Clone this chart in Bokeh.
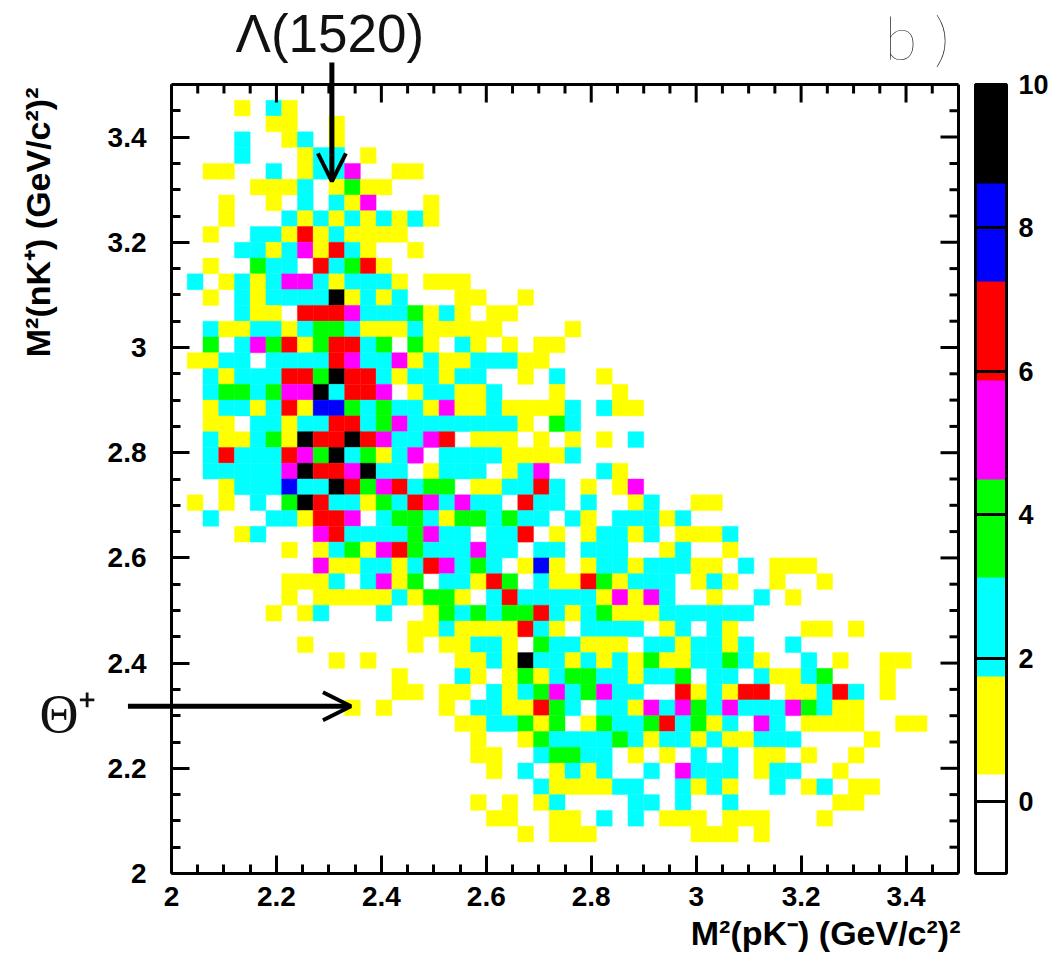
from bokeh.plotting import figure
from bokeh.models import (ColumnDataSource, LinearColorMapper, ColorBar, FixedTicker, LinearAxis,
                          Label, Arrow, OpenHead, Range1d)
from bokeh.transform import transform
from bokeh.embed import file_html
from bokeh.resources import INLINE

# bin edges: 50 x 50 bins of 0.03 over 2 .. 3.5
x_low, y_low, bin_size, n_bins = 2.0, 2.0, 0.03, 50
x_high, y_high = 3.5, 3.5

# counts per cell, top row first, left to right (grouped in fives, '.' = empty)
count_rows = [
    "",
    "....1 .21",
    "..... .11.. 1",
    "....2 ..12. 1",
    "....2 ...12 2.1",
    "..11. .2.12 25..1 1",
    "..... 1112. 1411",
    "...1. .1.2. 215.. .1",
    "...1. ..212 12121 21",
    "..1.. 22161 21111",
    "....2 21251 621.. 1",
    "..1.. 422.6 2461",
    ".2.12 12552 12221 .111",
    "..1.2 12222 91212 ...11 ..1",
    "....2 11.66 65222 4121. 11",
    "..211 22124 42111 21111 1.... 1",
    "..4.2 54614 6624. 41.21 .1.11",
    ".1122 .2222 65225 12112 2211",
    "..212 22664 96621 22122 ..1.2 ..1",
    "..244 24559 2665. 12211 2...1 ...1",
    "..122 12618 84242 21511 21111 2.211",
    "..11. 22122 66245 22222 221.4 2",
    "..211 24196 69652 256.1 11.1. 1.1.2",
    "..262 22654 92412 5.222 21111 2",
    "..222 22596 65922 .1222 .125. ..21",
    "...12 22822 96456 244.1 12262 .1.15",
    ".1.1. 2.496 22142 65252 2.622 .2..1 2..11",
    "..2.. .2216 65.24 42144 2422. 21.22 212",
    "....1 2...5 62222 4522. 226.1 .1221 2.111 2",
    "..... ..1.1 24156 42225 22.22 .222. .12.. 1",
    "..... ....5 11221 26524 2.181 .1221 22211 .2.11 1",
    "..... ..111 2.251 4.221 64.21 16412 22.12 1..1. .1",
    "..... ..1.1 11112 1441. 26222 22151 52..1 ..2.1",
    "..... .1.12 ...2. .1424 24462 12411 12222 22",
    "..... ..... ..... 11211 11621 .2222 .12.2 1.... 11.1",
    "..... ...1. ..... 1.112 21.42 2111. 22122 12..2",
    "..... ..... 1.1.. ...11 21922 12121 41122 421.. 2.1.. 11",
    "..... ..... ....1 ...21 .1412 44221 224.2 2.211 24... 1",
    "..... ..... ....1 1.11. 21245 24522 ..612 166.1 1262. 1",
    "..... ..... .1.1. ..1.2 21164 2.221 52542 52225 4211",
    "..... ..... ..... ...11 22414 .1422 46241 2.52. 1111. .11",
    "..... ..... ..... ....1 ..142 22242 12212 11222 ....1",
    "..... ..... ..... ....1 1..24 422.1 .1.2. 2.11. 1..1",
    "..... ..... ..... ..... 1.2.1 212.. 2.522 2.122 ..1",
    "..... ..... ..... ..... ...21 11122 ..212 1..2. 12.11",
    "..... ..... ..... ....1 .1.12 ....2 2.2.. 2.... ..11.",
    "..... ..... ..... ..... 11..1 1.2.2 .111. 111.. .1",
    "..... ..... ..... ..... ..1.1 11... ...11 1.1",
    "",
    "",
]

palette = ["#ffffff", "#ffff00", "#00ffff", "#00ff00", "#ff00ff", "#ff0000", "#0000ff", "#000000"]
z_low, z_high = -1, 10

major_ticks = [2.0, 2.2, 2.4, 2.6, 2.8, 3.0, 3.2, 3.4]
minor_ticks = [2.05, 2.1, 2.15, 2.25, 2.3, 2.35, 2.45, 2.5, 2.55, 2.65, 2.7, 2.75, 2.85, 2.9, 2.95,
               3.05, 3.1, 3.15, 3.25, 3.3, 3.35, 3.45]
tick_labels = {2.0: "2", 2.2: "2.2", 2.4: "2.4", 2.6: "2.6", 2.8: "2.8", 3.0: "3", 3.2: "3.2", 3.4: "3.4"}
colorbar_ticks = [0, 2, 4, 6, 8, 10]

left, right, bottom, top, count = [], [], [], [], []
for r, row in enumerate(count_rows):
    cells = row.replace(" ", "").ljust(n_bins, ".")
    for c, ch in enumerate(cells):
        if ch != ".":
            j = n_bins - 1 - r
            left.append(x_low + c * bin_size)
            right.append(x_low + (c + 1) * bin_size)
            bottom.append(y_low + j * bin_size)
            top.append(y_low + (j + 1) * bin_size)
            count.append(int(ch))

source = ColumnDataSource(dict(left=left, right=right, bottom=bottom, top=top, count=count))
mapper = LinearColorMapper(palette=palette, low=z_low, high=z_high)

W, H = 1055, 957
PLOT_L, PLOT_R, PLOT_T, PLOT_B = 171, 958, 84, 873
sx = (PLOT_R - PLOT_L) / (x_high - x_low)   # px per unit
sy = (PLOT_B - PLOT_T) / (y_high - y_low)

# the frame fills the whole canvas, so labels and arrows outside the axes box stay visible
p = figure(width=W, height=H, output_backend="svg", toolbar_location=None,
           x_range=Range1d(x_low - PLOT_L / sx, x_low + (W - PLOT_L) / sx),
           y_range=Range1d(y_low - (H - PLOT_B) / sy, y_low + PLOT_B / sy),
           x_axis_type=None, y_axis_type=None,
           min_border_left=0, min_border_right=0, min_border_top=0, min_border_bottom=0,
           background_fill_color="white", border_fill_color="white", outline_line_color=None)
p.grid.visible = False

p.quad(left="left", right="right", bottom="bottom", top="top", source=source,
       fill_color=transform("count", mapper), line_color=transform("count", mapper), line_width=0.4)

ticker = FixedTicker(ticks=major_ticks, minor_ticks=minor_ticks)
FONT = "Liberation Sans"

def make_axis(location, standoff):
    return LinearAxis(ticker=ticker, fixed_location=location, bounds=(2, 3.5),
                      major_tick_in=18, major_tick_out=0, minor_tick_in=9, minor_tick_out=0,
                      major_tick_line_width=3, minor_tick_line_width=3, axis_line_width=3,
                      major_tick_line_color="black", minor_tick_line_color="black", axis_line_color="black",
                      major_label_overrides=tick_labels, major_label_text_font=FONT,
                      major_label_text_font_style="bold", major_label_text_font_size="28px",
                      major_label_text_color="black", major_label_standoff=standoff)

p.add_layout(make_axis(y_low, 13), "below")
p.add_layout(make_axis(x_low, 25), "left")

# mirrored ticks on the top and right sides, without labels
tick_kw = dict(line_color="black", line_width=3)
p.segment(major_ticks, y_high, major_ticks, y_high - 18 / sy, **tick_kw)
p.segment(minor_ticks, y_high, minor_ticks, y_high - 9 / sy, **tick_kw)
p.segment(x_high, major_ticks, x_high - 18 / sx, major_ticks, **tick_kw)
p.segment(x_high, minor_ticks, x_high - 9 / sx, minor_ticks, **tick_kw)
p.segment([x_low, x_high], y_high, [x_high, x_high], [y_high, y_low], **tick_kw)

cb = ColorBar(color_mapper=mapper, ticker=FixedTicker(ticks=colorbar_ticks), location=(975, H - PLOT_B),
              width=31, height=PLOT_B - PLOT_T, padding=0, margin=0, label_standoff=12,
              major_tick_in=31, major_tick_out=0, major_tick_line_color="black", major_tick_line_width=3,
              minor_tick_line_color=None, bar_line_color="black", bar_line_width=3,
              major_label_text_font=FONT, major_label_text_font_style="bold",
              major_label_text_font_size="27px", major_label_text_color="black",
              background_fill_color=None, border_line_color=None, title=None)
p.add_layout(cb)

def add_text(text, px, py, size, font=FONT, style="normal", align="left", angle=0, color="black"):
    p.add_layout(Label(x=px, y=H - py, x_units="screen", y_units="screen", text=text,
                       text_font=font, text_font_style=style, text_font_size=size,
                       text_align=align, text_baseline="middle", angle=angle, text_color=color))

add_text("M\u00b2(pK\u207b) (GeV/c\u00b2)\u00b2", 960, 932, "34px", style="bold", align="right")
add_text("M\u00b2(nK\u207a) (GeV/c\u00b2)\u00b2", 37, 87, "34px", style="bold", align="right", angle=1.5708)
add_text("\u039b(1520)", 235, 33, "53px", color="#111111")
add_text("\u0398\u207a", 39, 713, "54px", font="Liberation Serif", color="#111111")
add_text("b )", 884, 36, "60px", font="Lato Hairline, Roboto Thin, Lato Light, Lato", color="#222222")

head = dict(size=28, line_width=4, line_color="black")
p.add_layout(Arrow(end=OpenHead(**head), line_width=5, line_color="black",
                   x_start=2.3057, y_start=3.542, x_end=2.3057, y_end=3.316))
p.add_layout(Arrow(end=OpenHead(**head), line_width=5, line_color="black",
                   x_start=1.917, y_start=2.318, x_end=2.342, y_end=2.318))

open("out.html", "w").write(file_html(p, INLINE))
